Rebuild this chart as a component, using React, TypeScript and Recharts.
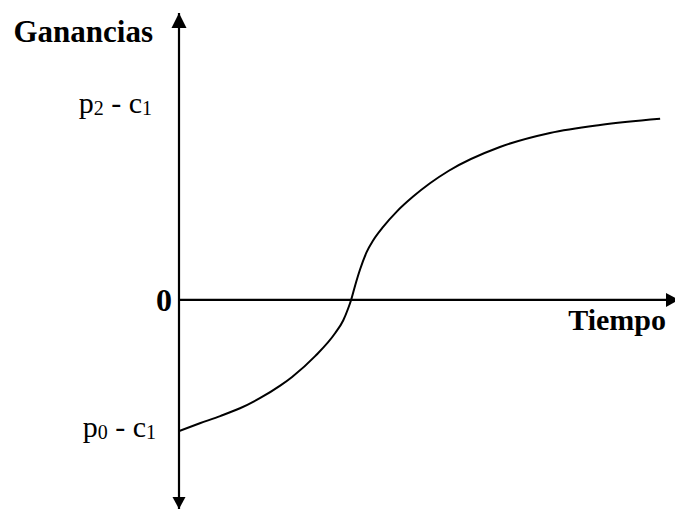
import { LineChart, Line, XAxis, YAxis, ReferenceLine, ReferenceDot } from 'recharts';

// tiempo (0..100) y ganancias (p2 - c1 = 1)
const tiempo = [0, 4.2, 8.3, 12.3, 16.3, 20.4, 22.8, 27.4, 31.5, 33.1, 34.1, 34.7, 35.5, 36.5, 37.8, 39.2, 41.2, 43.9, 47.2, 50.6, 54.4, 64.7, 74.8, 84.9, 97.0];
const ganancias = [-0.69, -0.649, -0.611, -0.57, -0.517, -0.451, -0.405, -0.297, -0.174, -0.108, -0.045, 0, 0.075, 0.16, 0.25, 0.316, 0.386, 0.465, 0.544, 0.614, 0.68, 0.805, 0.879, 0.921, 0.953];

const yTickValues = [-0.69, 0, 1];
const yTickLabels = [
    { main: 'p', sub: '0', rest: ' - c', sub2: '1', bold: false },
    { main: '0', sub: '', rest: '', sub2: '', bold: true },
    { main: 'p', sub: '2', rest: ' - c', sub2: '1', bold: false },
];

const X_DOMAIN: [number, number] = [0, 100];
const Y_DOMAIN: [number, number] = [-1.1, 1.51];

const data = tiempo.map((t, i) => ({ t, g: ganancias[i] }));

const FONT = '"Liberation Serif", "Times New Roman", serif';

function YTick(props: any) {
    const { x, y, payload } = props;
    const idx = yTickValues.indexOf(payload.value);
    const lab = yTickLabels[idx];
    if (!lab) return null;
    if (lab.bold) {
        return (
            <text x={x - 7} y={y + 11} textAnchor="end" fontFamily={FONT} fontWeight="bold" fontSize={32} fill="#000">
                {lab.main}
            </text>
        );
    }
    const right = payload.value > 0 ? x - 27 : x - 23;
    const base = payload.value > 0 ? y + 3 : y + 6;
    return (
        <text x={right} y={base} textAnchor="end" fontFamily={FONT} fontSize={30} fill="#000">
            {lab.main}
            <tspan fontSize={20} dy={2}>{lab.sub}</tspan>
            <tspan dy={-2}>{lab.rest}</tspan>
            <tspan fontSize={20} dy={2}>{lab.sub2}</tspan>
        </text>
    );
}

const arrowUp = (p: any) => (
    <path d={`M${p.cx},${p.cy} L${p.cx - 7.5},${p.cy + 15} L${p.cx + 7.5},${p.cy + 15} Z`} fill="#000" />
);
const arrowDown = (p: any) => (
    <path d={`M${p.cx},${p.cy} L${p.cx - 6.5},${p.cy - 12} L${p.cx + 6.5},${p.cy - 12} Z`} fill="#000" />
);
const arrowRight = (p: any) => (
    <path d={`M${p.cx + 4},${p.cy} L${p.cx - 9},${p.cy - 7} L${p.cx - 9},${p.cy + 7} Z`} fill="#000" />
);

export default function App() {
    return (
        <div style={{ position: 'absolute', left: 0, top: 0 }}>
            <LineChart width={675} height={511} data={data} margin={{ top: 13, right: 0, left: 0, bottom: 2 }}>
                <XAxis dataKey="t" type="number" domain={X_DOMAIN} allowDataOverflow hide />
                <YAxis
                    type="number"
                    domain={Y_DOMAIN}
                    allowDataOverflow
                    ticks={yTickValues}
                    width={179}
                    axisLine={false}
                    tickLine={false}
                    tickSize={0}
                    tickMargin={0}
                    interval={0}
                    tick={<YTick />}
                    label={{
                        content: (p: any) => (
                            <text x={p.viewBox.x + p.viewBox.width - 26} y={p.viewBox.y + 29} textAnchor="end" fontFamily={FONT} fontWeight="bold" fontSize={31} fill="#000">
                                Ganancias
                            </text>
                        ),
                    }}
                />
                <ReferenceLine x={0} stroke="#000" strokeWidth={2.2} />
                <ReferenceLine
                    y={0}
                    stroke="#000"
                    strokeWidth={2.2}
                    label={{
                        content: (p: any) => (
                            <text x={p.viewBox.x + p.viewBox.width - 9} y={p.viewBox.y + 30} textAnchor="end" fontFamily={FONT} fontWeight="bold" fontSize={30} fill="#000">
                                Tiempo
                            </text>
                        ),
                    }}
                />
                <ReferenceDot x={0} y={Y_DOMAIN[1]} r={0} ifOverflow="visible" shape={arrowUp} />
                <ReferenceDot x={0} y={Y_DOMAIN[0]} r={0} ifOverflow="visible" shape={arrowDown} />
                <ReferenceDot x={X_DOMAIN[1]} y={0} r={0} ifOverflow="visible" shape={arrowRight} />
                <Line type="monotone" dataKey="g" stroke="#000" strokeWidth={2} dot={false} activeDot={false} isAnimationActive={false} />
            </LineChart>
        </div>
    );
}
